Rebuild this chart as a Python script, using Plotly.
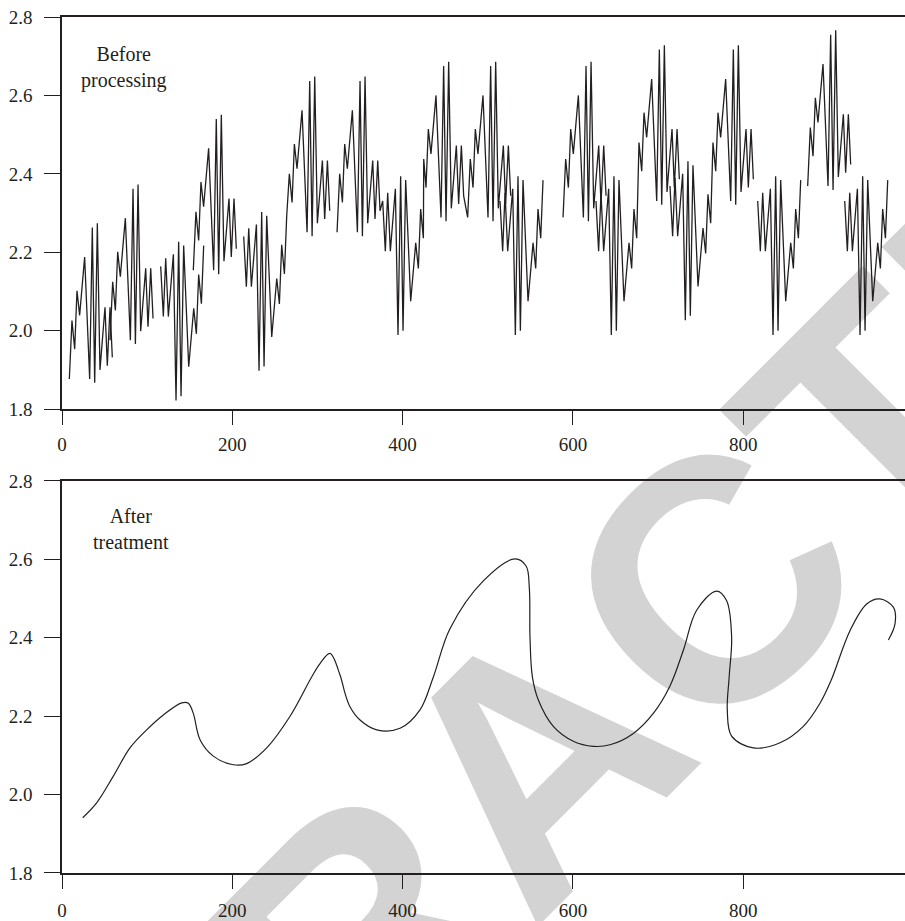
import plotly.graph_objects as go

# ---------------- data: "Before processing" (line segments separated by gaps) ----------------
seg1_x = [8.6, 11.7, 14.9, 17.6, 20.7, 26.6, 32.5, 35.6, 38.4, 41.5, 44.6, 50.5, 53.2, 56.4, 59.1]
seg1_y = [1.877, 2.026, 1.953, 2.102, 2.039, 2.188, 1.877, 2.263, 1.867, 2.274, 1.900, 2.060, 1.911, 2.060, 1.932]
seg2_x = [56.4, 59.5, 62.7, 65.4, 68.5, 74.4, 80.3, 83.4, 86.2, 89.3, 92.4, 98.3, 101.0, 104.2, 106.9]
seg2_y = [1.976, 2.125, 2.052, 2.201, 2.138, 2.287, 1.976, 2.362, 1.966, 2.373, 1.999, 2.159, 2.010, 2.159, 2.031]
seg3_x = [115.9, 119.0, 121.8, 124.9, 130.8, 133.9, 137.0, 139.8, 142.9, 148.8, 154.7, 157.8, 160.5, 163.7, 166.4]
seg3_y = [2.164, 2.036, 2.185, 2.036, 2.195, 1.822, 2.227, 1.833, 2.217, 1.908, 2.057, 1.992, 2.143, 2.069, 2.217]
seg4_x = [154.2, 157.3, 160.5, 163.2, 166.3, 172.2, 178.1, 181.2, 184.0, 187.1, 190.2, 196.1, 198.8, 202.0, 204.7]
seg4_y = [2.154, 2.303, 2.230, 2.379, 2.316, 2.465, 2.154, 2.540, 2.144, 2.551, 2.177, 2.337, 2.188, 2.337, 2.209]
seg5_x = [213.4, 216.5, 219.3, 222.4, 228.3, 231.4, 234.5, 237.3, 240.4, 246.3, 252.2, 255.3, 258.0, 261.2,
          263.9, 267.0, 270.2, 272.9, 276.0, 281.9, 287.8, 290.9, 293.7, 296.8, 299.9, 305.8, 308.5, 311.7, 314.4]
seg5_y = [2.240, 2.112, 2.261, 2.112, 2.271, 1.898, 2.303, 1.909, 2.293, 1.984, 2.133, 2.068, 2.219, 2.145,
          2.293, 2.400, 2.327, 2.476, 2.413, 2.562, 2.251, 2.637, 2.241, 2.648, 2.274, 2.434, 2.285, 2.434, 2.306]
seg6_x = [323.0, 326.1, 329.3, 332.0, 335.1, 341.0, 346.9, 350.0, 352.8, 355.9, 359.0, 364.9, 367.6, 370.8, 373.5,
          376.6, 379.7, 382.5, 385.6, 391.5, 394.6, 397.7, 400.5, 403.6, 409.5, 415.4, 418.5, 421.2, 424.4,
          424.8, 427.5, 430.2, 433.3, 439.2, 445.1, 448.2, 451.0, 454.1, 457.2, 463.1, 465.8, 469.0, 471.7,
          476.4, 479.5, 482.7, 485.4, 488.5, 494.4, 500.3, 503.4, 506.2, 509.3, 512.4, 518.3, 521.0, 524.2, 526.9]
seg6_y = [2.251, 2.400, 2.327, 2.476, 2.413, 2.562, 2.251, 2.637, 2.241, 2.648, 2.274, 2.434, 2.285, 2.434, 2.306,
          2.331, 2.203, 2.352, 2.203, 2.362, 1.989, 2.394, 2.000, 2.384, 2.075, 2.224, 2.159, 2.310, 2.236,
          2.438, 2.365, 2.514, 2.451, 2.600, 2.289, 2.675, 2.279, 2.686, 2.312, 2.472, 2.323, 2.472, 2.344,
          2.289, 2.438, 2.365, 2.514, 2.451, 2.600, 2.289, 2.675, 2.279, 2.686, 2.312, 2.472, 2.323, 2.472, 2.344]
seg7_x = [514.4, 517.5, 520.3, 523.4, 529.3, 532.4, 535.5, 538.3, 541.4, 547.3, 553.2, 556.3, 559.0, 562.2, 564.9]
seg7_y = [2.331, 2.203, 2.352, 2.203, 2.362, 1.989, 2.394, 2.000, 2.384, 2.075, 2.224, 2.159, 2.310, 2.236, 2.384]
seg8_x = [588.4, 591.5, 594.7, 597.4, 600.5, 606.4, 612.3, 615.4, 618.2, 621.3, 624.4, 630.3, 633.0, 636.2, 638.9]
seg8_y = [2.289, 2.438, 2.365, 2.514, 2.451, 2.600, 2.289, 2.675, 2.279, 2.686, 2.312, 2.472, 2.323, 2.472, 2.344]
seg9_x = [627.1, 630.2, 633.0, 636.1, 642.0, 645.1, 648.2, 651.0, 654.1, 660.0, 665.9, 669.0, 671.7, 674.9,
          677.6, 680.8, 683.5, 686.6, 692.5, 698.4, 701.5, 704.3, 707.4, 710.5, 716.4, 719.1, 722.3, 725.0]
seg9_y = [2.331, 2.203, 2.352, 2.203, 2.362, 1.989, 2.394, 2.000, 2.384, 2.075, 2.224, 2.159, 2.310, 2.236,
          2.480, 2.407, 2.556, 2.493, 2.642, 2.331, 2.717, 2.321, 2.728, 2.354, 2.514, 2.365, 2.514, 2.386]
seg10_x = [714.0, 717.1, 719.9, 723.0, 728.9, 732.0, 735.1, 737.9, 741.0, 746.9, 752.8, 755.9, 758.6, 761.8,
           764.5, 767.7, 770.4, 773.5, 779.4, 785.3, 788.4, 791.2, 794.3, 797.4, 803.3, 806.0, 809.2, 811.9]
seg10_y = [2.369, 2.241, 2.390, 2.241, 2.400, 2.027, 2.432, 2.038, 2.422, 2.113, 2.262, 2.197, 2.348, 2.274,
           2.480, 2.407, 2.556, 2.493, 2.642, 2.331, 2.717, 2.321, 2.728, 2.354, 2.514, 2.365, 2.514, 2.386]
seg11_x = [817.0, 820.1, 822.9, 826.0, 831.9, 835.0, 838.1, 840.9, 844.0, 849.9, 855.8, 858.9, 861.6, 864.8, 867.5]
seg11_y = [2.331, 2.203, 2.352, 2.203, 2.362, 1.989, 2.394, 2.000, 2.384, 2.075, 2.224, 2.159, 2.310, 2.236, 2.384]
seg12_x = [875.7, 878.8, 882.0, 884.7, 887.8, 893.7, 899.6, 902.7, 905.5, 908.6, 911.7, 917.6, 920.3, 923.5, 926.2]
seg12_y = [2.369, 2.518, 2.445, 2.594, 2.531, 2.680, 2.369, 2.755, 2.359, 2.766, 2.392, 2.552, 2.403, 2.552, 2.424]
seg13_x = [919.2, 922.3, 925.1, 928.2, 934.1, 937.2, 940.3, 943.1, 946.2, 952.1, 958.0, 961.1, 963.8, 967.0, 969.7]
seg13_y = [2.331, 2.203, 2.352, 2.203, 2.362, 1.989, 2.394, 2.000, 2.384, 2.075, 2.224, 2.159, 2.310, 2.236, 2.384]

# ---------------- data: "After treatment" (smooth curve) ----------------
after_x = [24.3, 40.7, 60.3, 79.8, 99.4, 119.0, 140.6, 148.4, 154.2, 162.1,
           177.7, 201.2, 216.9, 240.4, 267.6, 293.2, 303.0, 314.7, 326.5, 332.4,
           338.2, 350.0, 369.6, 397.0, 420.4, 436.1, 455.6, 494.8, 532.0, 545.0,
           548.8, 549.6, 552.4, 559.4, 577.0, 600.5, 624.0, 643.6, 671.0, 694.4,
           714.0, 729.7, 745.3, 768.7, 780.4, 786.4, 783.5, 781.3, 786.4, 811.8,
           843.2, 870.6, 890.2, 903.0, 925.4, 945.0, 960.6, 976.3, 978.3, 970.5]
after_y = [1.941, 1.979, 2.047, 2.119, 2.165, 2.203, 2.234, 2.233, 2.207, 2.140,
           2.098, 2.076, 2.079, 2.119, 2.199, 2.300, 2.334, 2.360, 2.305, 2.258,
           2.224, 2.190, 2.165, 2.169, 2.216, 2.300, 2.423, 2.545, 2.601, 2.583,
           2.527, 2.402, 2.300, 2.241, 2.174, 2.136, 2.123, 2.127, 2.156, 2.207,
           2.277, 2.368, 2.470, 2.519, 2.495, 2.402, 2.300, 2.216, 2.149, 2.119,
           2.132, 2.174, 2.233, 2.290, 2.418, 2.486, 2.499, 2.478, 2.436, 2.394]

x_ticks = [0, 200, 400, 600, 800]
y_ticks = [1.8, 2.0, 2.2, 2.4, 2.6, 2.8]
y_ticktext = ["1.8", "2.0", "2.2", "2.4", "2.6", "2.8"]
label_top = "Before<br>processing"
label_bottom = "After<br>treatment"
watermark = "RETRACTED"

segments = [(seg1_x, seg1_y), (seg2_x, seg2_y), (seg3_x, seg3_y), (seg4_x, seg4_y), (seg5_x, seg5_y),
            (seg6_x, seg6_y), (seg7_x, seg7_y), (seg8_x, seg8_y), (seg9_x, seg9_y), (seg10_x, seg10_y),
            (seg11_x, seg11_y), (seg12_x, seg12_y), (seg13_x, seg13_y)]
top_x, top_y = [], []
for sx, sy in segments:
    top_x += list(sx) + [None]
    top_y += list(sy) + [None]

INK = "#231f20"
FONT = "Liberation Serif"

fig = go.Figure()
fig.add_trace(go.Scatter(x=top_x, y=top_y, mode="lines", connectgaps=False,
                         line=dict(color=INK, width=1.3), xaxis="x", yaxis="y", showlegend=False))
fig.add_trace(go.Scatter(x=after_x, y=after_y, mode="lines",
                         line=dict(color=INK, width=1.2, shape="spline", smoothing=1.0),
                         xaxis="x2", yaxis="y2", showlegend=False))

axis_common = dict(showline=True, linecolor=INK, linewidth=1.5, ticks="outside", tickcolor=INK,
                   tickwidth=1.3, showgrid=False, zeroline=False,
                   tickfont=dict(family=FONT, size=19, color=INK))

fig.update_layout(
    width=905, height=921,
    margin=dict(l=62, r=0, t=17, b=44),
    paper_bgcolor="white", plot_bgcolor="rgba(0,0,0,0)",
    xaxis=dict(domain=[0, 1], anchor="y", range=[0, 990], tickvals=x_ticks, ticklen=14,
               mirror=True, ticklabelstandoff=3, **axis_common),
    yaxis=dict(domain=[0.5419, 1], anchor="x", range=[1.8, 2.8], tickvals=y_ticks, ticktext=y_ticktext,
               ticklen=16, ticklabelstandoff=8, **axis_common),
    xaxis2=dict(domain=[0, 1], anchor="y2", range=[0, 990], tickvals=x_ticks, ticklen=14,
                mirror=True, ticklabelstandoff=5, **axis_common),
    yaxis2=dict(domain=[0, 0.4581], anchor="x2", range=[1.8, 2.8], tickvals=y_ticks, ticktext=y_ticktext,
                ticklen=16, ticklabelstandoff=8, **axis_common),
    annotations=[
        dict(text=label_top, x=72.5, y=2.671, xref="x", yref="y", showarrow=False,
             font=dict(family=FONT, size=20, color=INK), align="center"),
        dict(text=label_bottom, x=81, y=2.678, xref="x2", yref="y2", showarrow=False,
             font=dict(family=FONT, size=20, color=INK), align="center"),
    ],
)

cx, cy = (512 - 62) / 843, (877 - 740) / 860
fig.add_shape(type="rect", xref="paper", yref="paper", x0=cx - 0.01, x1=cx + 0.01, y0=cy - 0.01, y1=cy + 0.01,
              line=dict(color="rgba(0,0,0,0)", width=0), fillcolor="rgba(0,0,0,0)", layer="below",
              label=dict(text=watermark, textangle=-45, textposition="middle center", padding=0,
                         font=dict(family="Liberation Sans", size=345, color="#d3d3d3", weight="bold")))

fig.write_html("out.html")
